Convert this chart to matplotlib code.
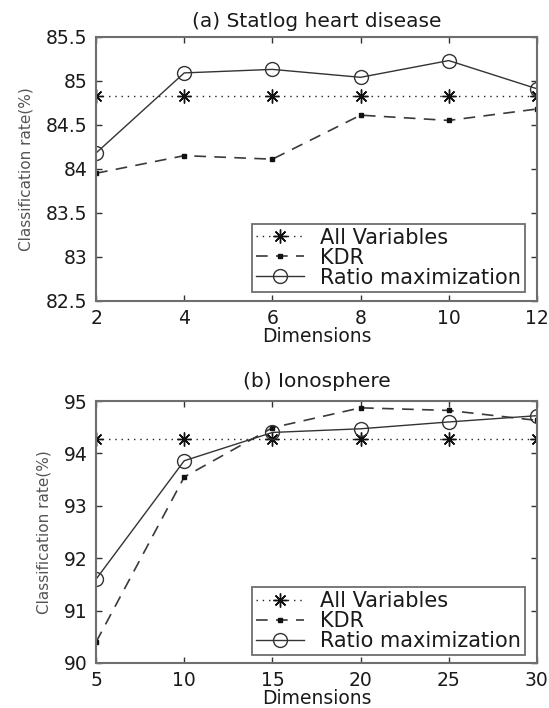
import numpy as np
import matplotlib
matplotlib.use("Agg")
import matplotlib.pyplot as plt

plt.rcParams['font.family'] = ['DejaVu Sans']

# (a) Statlog heart disease
dims_a = [2, 4, 6, 8, 10, 12]
allvar_a = [84.83, 84.83, 84.83, 84.83, 84.83, 84.83]
kdr_a = [83.95, 84.15, 84.11, 84.61, 84.55, 84.68]
ratio_a = [84.18, 85.09, 85.13, 85.04, 85.23, 84.91]

# (b) Ionosphere
dims_b = [5, 10, 15, 20, 25, 30]
allvar_b = [94.27, 94.27, 94.27, 94.27, 94.27, 94.27]
kdr_b = [90.40, 93.55, 94.49, 94.87, 94.82, 94.63]
ratio_b = [91.60, 93.86, 94.40, 94.47, 94.60, 94.72]

labels = ['All Variables', 'KDR', 'Ratio maximization']

fig = plt.figure(figsize=(5.49, 7.08), dpi=100)
ax1 = fig.add_axes([0.175, 0.575, 0.803, 0.373])
ax2 = fig.add_axes([0.175, 0.0636, 0.803, 0.370])

txt = '#1a1a1a'
frame = '#6e6e6e'

def draw(ax, x, allv, kdr, ratio, ylim, yticks, title, title_pad, ylab_x, leg_y):
    ax.plot(x, allv, linestyle=(0, (1, 3.5)), color='#222222', lw=1.0,
            marker=(8, 2, 0), markersize=10, markeredgewidth=1.0,
            markeredgecolor='#111111', label=labels[0])
    ax.plot(x, kdr, linestyle=(0, (7, 5)), color='#3a3a3a', lw=1.2,
            marker='s', markersize=3, markerfacecolor='#111111',
            markeredgecolor='#111111', label=labels[1])
    ax.plot(x, ratio, linestyle='-', color='#333333', lw=1.0,
            marker='o', markersize=10, markerfacecolor='none',
            markeredgecolor='#333333', markeredgewidth=1.0, label=labels[2])
    ax.set_xlim(x[0], x[-1])
    ax.set_ylim(*ylim)
    ax.set_xticks(x)
    ax.set_yticks(yticks)
    ax.set_yticklabels([('%g' % v) for v in yticks])
    ax.tick_params(direction='in', top=True, right=True, length=4,
                   width=1.0, color='#333333', labelsize=13.5, labelcolor=txt, pad=6)
    ax.tick_params(axis='y', pad=6)
    for s in ax.spines.values():
        s.set_color(frame)
        s.set_linewidth(1.5)
    ax.set_title(title, fontsize=14.5, color=txt, pad=title_pad)
    ax.set_xlabel('Dimensions', fontsize=13.5, color=txt, labelpad=-1)
    ax.set_ylabel('Classification rate(%)', fontsize=11, color='#555555')
    ax.yaxis.set_label_coords(ylab_x, 0.5)
    leg = ax.legend(loc='lower right', fontsize=15, frameon=True, fancybox=False,
                    edgecolor=frame, framealpha=1, borderpad=0.2,
                    labelspacing=0.0, handlelength=2.3, handletextpad=0.75,
                    borderaxespad=0, bbox_to_anchor=(1 - 12 / 441, leg_y))
    leg.get_frame().set_linewidth(1.3)
    for t in leg.get_texts():
        t.set_color(txt)

draw(ax1, dims_a, allvar_a, kdr_a, ratio_a, (82.5, 85.5),
     [82.5, 83, 83.5, 84, 84.5, 85, 85.5], '(a) Statlog heart disease', 7,
     -0.143, 9 / 264)
draw(ax2, dims_b, allvar_b, kdr_b, ratio_b, (90, 95),
     [90, 91, 92, 93, 94, 95], '(b) Ionosphere', 10, -0.10, 8 / 262)

fig.savefig('out.png', dpi=100)
